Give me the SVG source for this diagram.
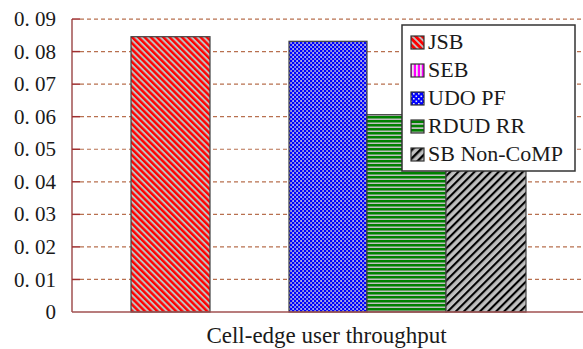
<svg xmlns="http://www.w3.org/2000/svg" width="583" height="349" viewBox="0 0 583 349">
  <style>
    text { font-family: 'Liberation Serif', 'Times New Roman', 'DejaVu Serif', serif; fill: #1a1a1a; }
    .ytick { font-size: 21px; text-anchor: end; }
    .leg { font-size: 22px; }
    .grid { stroke: #b8704f; stroke-width: 1.2; stroke-dasharray: 4 3; fill: none; }
    .tick { stroke: #a03030; stroke-width: 1.5; }
    .axis { stroke: #a05050; stroke-width: 1.5; fill: none; }
    .bar { stroke: #404040; stroke-width: 1.2; }
    .sw { stroke: #333; stroke-width: 1.2; }
  </style>
  <defs>
    <!-- bar fills -->
    <pattern id="pJSB" width="4.4" height="4.4" patternUnits="userSpaceOnUse" patternTransform="rotate(45)">
      <rect width="4.4" height="4.4" fill="#ff0000"/>
      <rect width="4.4" height="2" fill="#c0c0c0"/>
    </pattern>
    <pattern id="pSEB" width="4" height="4" patternUnits="userSpaceOnUse">
      <rect width="4" height="4" fill="#ff00ff"/>
      <rect width="1.5" height="4" fill="#e0e0e0"/>
    </pattern>
    <pattern id="pUDO" width="4" height="4" patternUnits="userSpaceOnUse">
      <rect width="4" height="4" fill="#0000ff"/>
      <rect x="0.2" y="0.2" width="1.8" height="1.6" fill="#d0d0e4"/>
      <rect x="2.2" y="2.2" width="1.8" height="1.6" fill="#b8b8d4"/>
    </pattern>
    <pattern id="pRDUD" width="4" height="4" patternUnits="userSpaceOnUse">
      <rect width="4" height="4" fill="#008000"/>
      <rect y="2.5" width="4" height="1.5" fill="#c0c0c0"/>
    </pattern>
    <pattern id="pSB" width="5.7" height="5.7" patternUnits="userSpaceOnUse" patternTransform="rotate(-45)">
      <rect width="5.7" height="5.7" fill="#c0c0c0"/>
      <rect width="5.7" height="2.1" fill="#000000"/>
    </pattern>
    <!-- coarser fills for legend swatches -->
    <pattern id="lJSB" width="4.6" height="4.6" patternUnits="userSpaceOnUse" patternTransform="rotate(45)">
      <rect width="4.6" height="4.6" fill="#ff0000"/>
      <rect width="4.6" height="1.8" fill="#c0c0c0"/>
    </pattern>
    <pattern id="lSEB" width="4" height="4" patternUnits="userSpaceOnUse">
      <rect width="4" height="4" fill="#ff00ff"/>
      <rect x="0" width="1.8" height="4" fill="#e8e8e8"/>
    </pattern>
    <pattern id="lUDO" width="5" height="5" patternUnits="userSpaceOnUse">
      <rect width="5" height="5" fill="#0000ff"/>
      <rect x="0.5" y="0.5" width="1.6" height="1.6" fill="#e0e0f0"/>
      <rect x="3" y="3" width="1.6" height="1.6" fill="#e0e0f0"/>
    </pattern>
    <pattern id="lRDUD" width="4.3" height="4.3" patternUnits="userSpaceOnUse">
      <rect width="4.3" height="4.3" fill="#008000"/>
      <rect y="2.6" width="4.3" height="1.7" fill="#c0c0c0"/>
    </pattern>
    <pattern id="lSB" width="6" height="6" patternUnits="userSpaceOnUse" patternTransform="rotate(-45)">
      <rect width="6" height="6" fill="#c0c0c0"/>
      <rect width="6" height="2.4" fill="#000000"/>
    </pattern>
  </defs>

  <rect width="583" height="349" fill="#ffffff"/>

  <!-- gridlines -->
  <g id="grid">
    <line class="grid" x1="80" y1="19.05" x2="583" y2="19.05"/>
    <line class="grid" x1="80" y1="51.6" x2="583" y2="51.6"/>
    <line class="grid" x1="80" y1="84.15" x2="583" y2="84.15"/>
    <line class="grid" x1="80" y1="116.7" x2="583" y2="116.7"/>
    <line class="grid" x1="80" y1="149.25" x2="583" y2="149.25"/>
    <line class="grid" x1="80" y1="181.8" x2="583" y2="181.8"/>
    <line class="grid" x1="80" y1="214.35" x2="583" y2="214.35"/>
    <line class="grid" x1="80" y1="246.9" x2="583" y2="246.9"/>
    <line class="grid" x1="80" y1="279.45" x2="583" y2="279.45"/>
  </g>

  <!-- y axis with tick marks -->
  <g id="yaxis">
    <line class="axis" x1="72" y1="19" x2="72" y2="312"/>
    <line class="tick" x1="72" y1="19.05" x2="80" y2="19.05"/>
    <line class="tick" x1="72" y1="51.6" x2="80" y2="51.6"/>
    <line class="tick" x1="72" y1="84.15" x2="80" y2="84.15"/>
    <line class="tick" x1="72" y1="116.7" x2="80" y2="116.7"/>
    <line class="tick" x1="72" y1="149.25" x2="80" y2="149.25"/>
    <line class="tick" x1="72" y1="181.8" x2="80" y2="181.8"/>
    <line class="tick" x1="72" y1="214.35" x2="80" y2="214.35"/>
    <line class="tick" x1="72" y1="246.9" x2="80" y2="246.9"/>
    <line class="tick" x1="72" y1="279.45" x2="80" y2="279.45"/>
    <text class="ytick" x="56" y="26">0. 09</text>
    <text class="ytick" x="56" y="58.6">0. 08</text>
    <text class="ytick" x="56" y="91.2">0. 07</text>
    <text class="ytick" x="56" y="123.7">0. 06</text>
    <text class="ytick" x="56" y="156.3">0. 05</text>
    <text class="ytick" x="56" y="188.8">0. 04</text>
    <text class="ytick" x="56" y="221.4">0. 03</text>
    <text class="ytick" x="56" y="253.9">0. 02</text>
    <text class="ytick" x="56" y="286.5">0. 01</text>
    <text class="ytick" x="56" y="319">0</text>
  </g>

  <!-- bars -->
  <g id="bar-jsb"><rect class="bar" x="131" y="36.7" width="79" height="275.3" fill="url(#pJSB)"/></g>
  <g id="bar-udo"><rect class="bar" x="289" y="41.3" width="78" height="270.7" fill="url(#pUDO)"/></g>
  <g id="bar-rdud"><rect class="bar" x="367" y="114.7" width="79" height="197.3" fill="url(#pRDUD)"/></g>
  <g id="bar-sb"><rect class="bar" x="446" y="160" width="80" height="152" fill="url(#pSB)"/></g>

  <!-- baseline -->
  <line class="axis" x1="72" y1="312" x2="583" y2="312"/>

  <!-- legend -->
  <g id="legend">
    <rect x="402" y="25" width="173" height="146" fill="#ffffff" stroke="#333" stroke-width="1.5"/>
    <rect class="sw" x="411" y="36" width="13" height="13" fill="url(#lJSB)"/>
    <text class="leg" x="428" y="48.5">JSB</text>
    <rect class="sw" x="411" y="64" width="13" height="13" fill="url(#lSEB)"/>
    <text class="leg" x="428" y="76.5">SEB</text>
    <rect class="sw" x="411" y="92" width="13" height="13" fill="url(#lUDO)"/>
    <text class="leg" x="428" y="104.5">UDO PF</text>
    <rect class="sw" x="411" y="120" width="13" height="13" fill="url(#lRDUD)"/>
    <text class="leg" x="428" y="132.5">RDUD RR</text>
    <rect class="sw" x="411" y="148" width="13" height="13" fill="url(#lSB)"/>
    <text class="leg" x="428" y="160.5">SB Non-CoMP</text>
  </g>

  <!-- x axis caption -->
  <text x="326.5" y="343" font-size="23" text-anchor="middle">Cell-edge user throughput</text>
</svg>
